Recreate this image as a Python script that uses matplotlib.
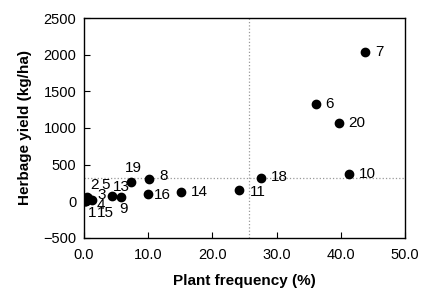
import matplotlib.pyplot as plt

plt.rcParams['font.family'] = ['Liberation Sans', 'DejaVu Sans']

# plant number, frequency (%), herbage yield (kg/ha)
plants = ['1', '2', '3', '4', '5', '15', '13', '9', '19', '8', '16', '14',
          '11', '18', '6', '20', '10', '7']
freq = [0.2, 0.5, 1.3, 0.3, 0.6, 0.2, 4.4, 5.8, 7.3, 10.1, 9.9, 15.1,
        24.2, 27.5, 36.1, 39.7, 41.2, 43.7]
yield_kg = [5, 60, 20, 10, 45, 0, 70, 60, 258, 300, 103, 126,
            149, 313, 1327, 1063, 376, 2032]

mean_freq = 25.7
mean_yield = 315

# label offsets in points (dx, dy)
offsets = {'1': (2.2, -8.9), '2': (2.0, 8.6), '3': (3.9, 3.5), '4': (7.8, -3.2),
           '5': (10.0, 9.4), '15': (8.2, -8.4), '13': (0.4, 6.3), '9': (-1.1, -8.4),
           '19': (-4.4, 10.2), '8': (7.9, 2.7), '16': (4.8, -1.1), '14': (7.5, 0),
           '11': (7.8, -1.0), '18': (7.4, 0.7), '6': (7.0, 0), '20': (7.0, 0),
           '10': (7.7, 0), '7': (8.0, 0)}

fig = plt.figure(figsize=(4.27, 2.89), dpi=100)
ax = fig.add_axes([0.1967, 0.1765, 0.7518, 0.7612])

ax.axvline(mean_freq, color='#999999', ls=':', lw=0.9, zorder=1)
ax.axhline(mean_yield, color='#999999', ls=':', lw=0.9, zorder=1)
ax.scatter(freq, yield_kg, s=36, color='black', zorder=3)

for p, x, y in zip(plants, freq, yield_kg):
    dx, dy = offsets[p]
    ax.annotate(p, (x, y), xytext=(dx, dy), textcoords='offset points',
                fontsize=11, va='center', ha='left')

ax.set_xlim(0, 50)
ax.set_ylim(-500, 2500)
ax.set_xticks([0, 10, 20, 30, 40, 50])
ax.set_xticklabels(['0.0', '10.0', '20.0', '30.0', '40.0', '50.0'])
ax.set_yticks([-500, 0, 500, 1000, 1500, 2000, 2500])
ax.tick_params(direction='in', labelsize=10.5, length=4, width=0.8)
ax.tick_params(axis='x', pad=7.5)
ax.tick_params(axis='y', pad=5.5)
for s in ax.spines.values():
    s.set_linewidth(1.0)

ax.set_xlabel('Plant frequency (%)', fontsize=11, fontweight='bold', labelpad=8)
ax.set_ylabel('Herbage yield (kg/ha)', fontsize=11, fontweight='bold', labelpad=8)

fig.savefig('out.png', dpi=100)
